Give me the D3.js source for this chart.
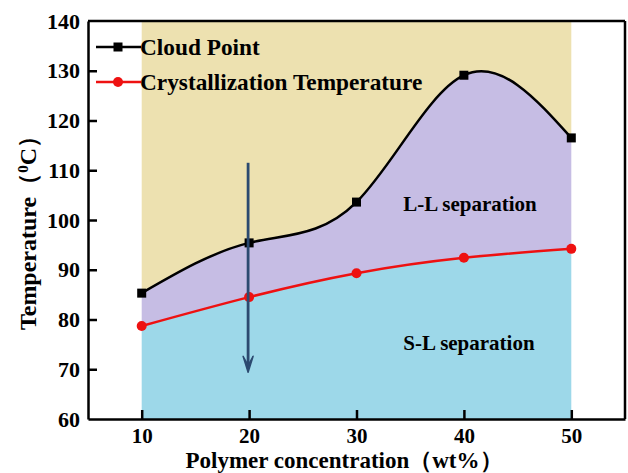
<!DOCTYPE html>
<html>
<head>
<meta charset="utf-8">
<script src="https://cdn.jsdelivr.net/npm/d3@7"></script>
<style>
  html, body { margin: 0; padding: 0; background: #fff; }
  svg { display: block; font-family: "Liberation Serif", "Times New Roman", serif; }
  text { fill: #000; }
</style>
</head>
<body>
<svg id="chart" width="628" height="473"></svg>
<script>
// Polymer concentration (wt%)
const concentration = [10, 20, 30, 40, 50];
// Cloud point temperatures (°C)
const cloudPoint = [85.3, 95.4, 103.6, 129.1, 116.5];
// Crystallization temperatures (°C)
const crystallization = [78.7, 84.5, 89.3, 92.4, 94.2];
const xTicks = [10, 20, 30, 40, 50];
const yTicks = [60, 70, 80, 90, 100, 110, 120, 130, 140];
const seriesNames = ["Cloud Point", "Crystallization Temperature"];
const regionLabels = ["L-L separation", "S-L separation"];

const svg = d3.select("#chart");
const margin = { left: 88, right: 3, top: 21, bottom: 54 };
const W = 628, H = 473;

const x = d3.scaleLinear().domain([5, 55]).range([margin.left, W - margin.right]);
const y = d3.scaleLinear().domain([60, 140]).range([H - margin.bottom, margin.top]);

const cloudData = concentration.map((c, i) => [c, cloudPoint[i]]);
const crystData = concentration.map((c, i) => [c, crystallization[i]]);
const curve = d3.curveNatural;
const line = d3.line().x(d => x(d[0])).y(d => y(d[1])).curve(curve);

// Sample a spline densely so regions can be filled between the two curves
function sampled(data) {
  const path = svg.append("path").attr("d", line(data));
  const node = path.node();
  const len = node.getTotalLength();
  const pts = [];
  for (let i = 0; i <= 400; i++) {
    const p = node.getPointAtLength(len * i / 400);
    pts.push([p.x, p.y]);
  }
  path.remove();
  return pts;
}
const cloudPts = sampled(cloudData);
const crystPts = sampled(crystData);

const x0 = x(concentration[0]), x1 = x(concentration[concentration.length - 1]);
const yTop = y(140), yBot = y(60);
const poly = d3.line();

// One-phase region above the cloud point curve
svg.append("path")
  .attr("d", poly([[x0, yTop], ...cloudPts, [x1, yTop]]) + "Z")
  .attr("fill", "#ede1b0");
// L-L region between the curves
svg.append("path")
  .attr("d", poly([...cloudPts, ...crystPts.slice().reverse()]) + "Z")
  .attr("fill", "#c6bde4");
// S-L region below the crystallization curve
svg.append("path")
  .attr("d", poly([[x0, yBot], ...crystPts, [x1, yBot]]) + "Z")
  .attr("fill", "#9dd8e9");

// Curves and markers
svg.append("path").attr("d", line(cloudData)).attr("fill", "none")
  .attr("stroke", "#000").attr("stroke-width", 2.5);
svg.append("path").attr("d", line(crystData)).attr("fill", "none")
  .attr("stroke", "#ee1111").attr("stroke-width", 2.5);

svg.selectAll("rect.cp").data(cloudData).join("rect").attr("class", "cp")
  .attr("x", d => x(d[0]) - 4.5).attr("y", d => y(d[1]) - 4.5)
  .attr("width", 9).attr("height", 9).attr("fill", "#000");
svg.selectAll("circle.ct").data(crystData).join("circle").attr("class", "ct")
  .attr("cx", d => x(d[0])).attr("cy", d => y(d[1])).attr("r", 5)
  .attr("fill", "#ee1111");

// Cooling arrow at 20 wt%
const ax = x(20) - 1;
const arrowColor = "#2c4a70";
svg.append("line").attr("x1", ax).attr("x2", ax).attr("y1", y(111.5)).attr("y2", y(70.5))
  .attr("stroke", arrowColor).attr("stroke-width", 2.8);
svg.append("path")
  .attr("d", `M${ax - 5},${y(72.6)} L${ax},${y(69.4)} L${ax + 5},${y(72.6)} L${ax},${y(70.8)} Z`)
  .attr("fill", arrowColor).attr("stroke", arrowColor).attr("stroke-width", 1.5)
  .attr("stroke-linejoin", "round");

// Axes with inward ticks
const axisB = svg.append("g").attr("transform", `translate(0,${yBot})`)
  .call(d3.axisBottom(x).tickValues(xTicks).tickSizeInner(-9).tickSizeOuter(0).tickPadding(9));
const axisL = svg.append("g").attr("transform", `translate(${margin.left},0)`)
  .call(d3.axisLeft(y).tickValues(yTicks).tickSizeInner(-9).tickSizeOuter(0).tickPadding(8));
[axisB, axisL].forEach(g => {
  g.select(".domain").attr("stroke", "#000").attr("stroke-width", 2.5);
  g.selectAll(".tick line").attr("stroke", "#000").attr("stroke-width", 2.5);
  g.selectAll(".tick text").attr("fill", "#000")
    .attr("font-weight", "bold").attr("font-family", "Liberation Serif, serif");
});
axisB.selectAll(".tick text").attr("font-size", 21);
axisL.selectAll(".tick text").attr("font-size", 22);
axisL.selectAll(".tick").filter(d => d === 60 || d === 140).select("line").remove();
// Top and right frame
svg.append("line").attr("x1", margin.left).attr("x2", W - margin.right)
  .attr("y1", yTop).attr("y2", yTop).attr("stroke", "#000").attr("stroke-width", 2.5);
svg.append("line").attr("x1", W - margin.right).attr("x2", W - margin.right)
  .attr("y1", yTop).attr("y2", yBot).attr("stroke", "#000").attr("stroke-width", 2.5);

// Axis titles
svg.append("text").attr("x", 344).attr("y", 468)
  .attr("text-anchor", "middle").attr("font-size", 23).attr("font-weight", "bold")
  .attr("fill", "#000")
  .text("Polymer concentration（wt%）");
const yt = svg.append("text").attr("transform", `translate(36,227) rotate(-90)`)
  .attr("text-anchor", "middle").attr("font-size", 24).attr("font-weight", "bold")
  .attr("fill", "#000");
yt.append("tspan").text("Temperature（");
yt.append("tspan").text("0").attr("font-size", 15).attr("dy", -8);
yt.append("tspan").text("C）").attr("dy", 8);

// Legend
const legendRows = [
  { name: seriesNames[0], color: "#000", y: 47, marker: "rect" },
  { name: seriesNames[1], color: "#ee1111", y: 82, marker: "circle" }
];
const legend = svg.append("g");
legendRows.forEach(r => {
  legend.append("line").attr("x1", 96).attr("x2", 141).attr("y1", r.y).attr("y2", r.y)
    .attr("stroke", r.color).attr("stroke-width", 2.5);
  if (r.marker === "rect") {
    legend.append("rect").attr("x", 113.5).attr("y", r.y - 4.5).attr("width", 9).attr("height", 9).attr("fill", r.color);
  } else {
    legend.append("circle").attr("cx", 118).attr("cy", r.y).attr("r", 5).attr("fill", r.color);
  }
  legend.append("text").attr("x", 140).attr("y", r.y + 7.5).attr("font-size", 23.3)
    .attr("font-weight", "bold").attr("fill", "#000").text(r.name);
});

// Region labels
svg.append("text").attr("x", 470).attr("y", 211).attr("text-anchor", "middle")
  .attr("font-size", 21).attr("font-weight", "bold").attr("fill", "#000").text(regionLabels[0]);
svg.append("text").attr("x", 469).attr("y", 350).attr("text-anchor", "middle")
  .attr("font-size", 21).attr("font-weight", "bold").attr("fill", "#000").text(regionLabels[1]);
</script>
</body>
</html>
